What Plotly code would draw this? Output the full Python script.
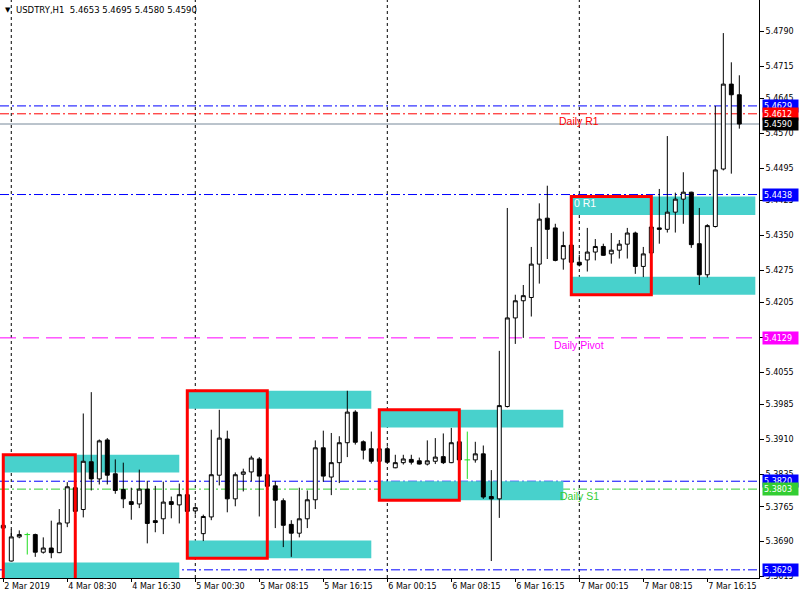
import plotly.graph_objects as go

# ---------------- data ----------------
symbol_title = "USDTRY,H1  5.4653 5.4695 5.4580 5.4590"

tick_labels = ["2 Mar 2019", "4 Mar 08:30", "4 Mar 16:30", "5 Mar 00:30", "5 Mar 08:15",
               "5 Mar 16:15", "6 Mar 00:15", "6 Mar 08:15", "6 Mar 16:15", "7 Mar 00:15",
               "7 Mar 08:15", "7 Mar 16:15"]
tick_bars = [0, 8, 16, 24, 32, 40, 48, 56, 64, 72, 80, 88]

y_ticks = [5.4790, 5.4715, 5.4645, 5.4570, 5.4495, 5.4425, 5.4350, 5.4275, 5.4205,
           5.4130, 5.4055, 5.3985, 5.3910, 5.3835, 5.3765, 5.3690, 5.3615]

opens = [5.3719, 5.3648, 5.3700, 5.3705, 5.3705, 5.3667, 5.3676, 5.3666, 5.3730, 5.3806,
         5.3759, 5.3862, 5.3825, 5.3909, 5.3836, 5.3802, 5.3776, 5.3771, 5.3803, 5.3735,
         5.3739, 5.3776, 5.3769, 5.3791, 5.3756, 5.3707, 5.3743, 5.3833, 5.3911, 5.3782,
         5.3835, 5.3840, 5.3868, 5.3834, 5.3810, 5.3778, 5.3727, 5.3708, 5.3739, 5.3780,
         5.3892, 5.3829, 5.3860, 5.3903, 5.3969, 5.3905, 5.3890, 5.3863, 5.3890, 5.3849,
         5.3860, 5.3867, 5.3864, 5.3857, 5.3863, 5.3873, 5.3860, 5.3905, 5.3866, 5.3866,
         5.3879, 5.3787, 5.3782, 5.3981, 5.4172, 5.4209, 5.4216, 5.4288, 5.4387, 5.4366,
         5.4299, 5.4329, 5.4292, 5.4297, 5.4314, 5.4326, 5.4310, 5.4318, 5.4331, 5.4355,
         5.4283, 5.4312, 5.4366, 5.4363, 5.4400, 5.4428, 5.4443, 5.4332, 5.4265, 5.4369,
         5.4493, 5.4676, 5.4653]
highs = [5.3755, 5.3716, 5.3714, 5.3709, 5.3707, 5.3699, 5.3735, 5.3760, 5.3818, 5.3839,
         5.3966, 5.4012, 5.3910, 5.3913, 5.3867, 5.3860, 5.3806, 5.3845, 5.3821, 5.3810,
         5.3819, 5.3787, 5.3815, 5.3813, 5.3766, 5.3748, 5.3931, 5.3974, 5.3929, 5.3839,
         5.3847, 5.3875, 5.3872, 5.3849, 5.3820, 5.3783, 5.3736, 5.3806, 5.3800, 5.3908,
         5.3929, 5.3924, 5.3917, 5.4015, 5.3973, 5.3908, 5.3927, 5.3908, 5.3895, 5.3877,
         5.3877, 5.3877, 5.3871, 5.3908, 5.3913, 5.3923, 5.3935, 5.3907, 5.3927, 5.3905,
         5.3897, 5.3844, 5.4101, 5.4409, 5.4222, 5.4243, 5.4325, 5.4419, 5.4457, 5.4375,
         5.4358, 5.4340, 5.4308, 5.4366, 5.4342, 5.4332, 5.4355, 5.4340, 5.4366, 5.4358,
         5.4325, 5.4369, 5.4450, 5.4564, 5.4442, 5.4486, 5.4444, 5.4409, 5.4374, 5.4629,
         5.4786, 5.4723, 5.4695]
lows = [5.3705, 5.3647, 5.3697, 5.3662, 5.3657, 5.3664, 5.3654, 5.3665, 5.3721, 5.3745,
        5.3742, 5.3800, 5.3813, 5.3813, 5.3793, 5.3762, 5.3737, 5.3762, 5.3686, 5.3710,
        5.3706, 5.3740, 5.3729, 5.3737, 5.3748, 5.3691, 5.3736, 5.3811, 5.3753, 5.3766,
        5.3798, 5.3820, 5.3744, 5.3747, 5.3719, 5.3678, 5.3657, 5.3699, 5.3719, 5.3760,
        5.3819, 5.3790, 5.3816, 5.3872, 5.3899, 5.3867, 5.3858, 5.3860, 5.3860, 5.3848,
        5.3856, 5.3856, 5.3856, 5.3854, 5.3857, 5.3857, 5.3859, 5.3823, 5.3825, 5.3860,
        5.3782, 5.3648, 5.3741, 5.3979, 5.4116, 5.4129, 5.4175, 5.4246, 5.4299, 5.4294,
        5.4276, 5.4280, 5.4283, 5.4272, 5.4296, 5.4306, 5.4289, 5.4300, 5.4300, 5.4267,
        5.4260, 5.4310, 5.4332, 5.4356, 5.4356, 5.4375, 5.4323, 5.4243, 5.4259, 5.4367,
        5.4490, 5.4483, 5.4580]
closes = [5.3725, 5.3700, 5.3705, 5.3705, 5.3667, 5.3676, 5.3666, 5.3730, 5.3808, 5.3755,
          5.3863, 5.3825, 5.3907, 5.3833, 5.3800, 5.3782, 5.3770, 5.3803, 5.3729, 5.3731,
          5.3775, 5.3770, 5.3791, 5.3755, 5.3763, 5.3744, 5.3834, 5.3913, 5.3782, 5.3834,
          5.3840, 5.3870, 5.3831, 5.3809, 5.3779, 5.3725, 5.3708, 5.3739, 5.3780, 5.3892,
          5.3831, 5.3860, 5.3903, 5.3969, 5.3904, 5.3887, 5.3863, 5.3890, 5.3861, 5.3860,
          5.3868, 5.3861, 5.3857, 5.3864, 5.3872, 5.3860, 5.3903, 5.3866, 5.3866, 5.3879,
          5.3786, 5.3782, 5.3983, 5.4172, 5.4209, 5.4220, 5.4288, 5.4385, 5.4363, 5.4296,
          5.4328, 5.4292, 5.4286, 5.4314, 5.4326, 5.4307, 5.4318, 5.4331, 5.4355, 5.4283,
          5.4310, 5.4368, 5.4363, 5.4400, 5.4428, 5.4443, 5.4330, 5.4265, 5.4371, 5.4491,
          5.4676, 5.4653, 5.4590]

day_separators = [1, 24, 48, 72]

# supply/demand zones (cyan)
zone_x0 = [0, 0, 23, 23, 47, 47, 71, 71]
zone_x1 = [22, 22, 46, 46, 70, 70, 94, 94]
zone_top = [5.3877, 5.3645, 5.4015, 5.3692, 5.3974, 5.3820, 5.4434, 5.4261]
zone_bot = [5.3839, 5.3605, 5.3976, 5.3654, 5.3936, 5.3779, 5.4394, 5.4222]

# opening range boxes (red)
box_x0 = [0, 23, 47, 71]
box_x1 = [9, 33, 57, 81]
box_top = [5.3877, 5.4015, 5.3974, 5.4434]
box_bot = [5.3605, 5.3654, 5.3779, 5.4222]

# horizontal levels
level_vals = [5.4629, 5.4612, 5.4590, 5.4438, 5.4129, 5.3820, 5.3803, 5.3629]
level_text = ["5.4629", "5.4612", "5.4590", "5.4438", "5.4129", "5.3820", "5.3803", "5.3629"]

# level text labels on chart
label_text = ["Daily R1", "Daily Pivot", "Daily S1", "0 R1"]
label_bar = [72, 72, 72, 71.1]
label_price = [5.4597, 5.4114, 5.3789, 5.4420]

# ---------------- styles ----------------
level_colors = ["#0000ff", "#ff0000", "#778899", "#0000ff", "#ff00ff", "#0000ff", "#32cd32", "#0000ff"]
level_box = ["#0000ff", "#ff0000", "#000000", "#0000ff", "#ff00ff", "#0000ff", "#32cd32", "#0000ff"]
level_dash = ["9px,3px,2px,3px", "9px,3px,2px,3px", "solid", "9px,3px,2px,3px", "16px,7px",
              "9px,3px,2px,3px", "9px,3px,2px,3px", "9px,3px,2px,3px"]
label_colors = ["#ff0000", "#ff00ff", "#32cd32", "#ffffff"]
label_anchor = ["center", "center", "center", "left"]
CYAN = "#48d1cc"
FONT = "DejaVu Sans"
LFONT = "Liberation Sans"

bars = list(range(len(opens)))
is_doji = [o == c for o, c in zip(opens, closes)]

fig = go.Figure()

# regular candles
fig.add_trace(go.Candlestick(
    x=[b for b, d in zip(bars, is_doji) if not d],
    open=[v for v, d in zip(opens, is_doji) if not d],
    high=[v for v, d in zip(highs, is_doji) if not d],
    low=[v for v, d in zip(lows, is_doji) if not d],
    close=[v for v, d in zip(closes, is_doji) if not d],
    increasing=dict(line=dict(color="black", width=1), fillcolor="white"),
    decreasing=dict(line=dict(color="black", width=1), fillcolor="black"),
    whiskerwidth=0, showlegend=False, hoverinfo="skip",
))

# doji crosses (green)
dx, dy = [], []
for b, d in zip(bars, is_doji):
    if d:
        dx += [b, b, None, b - 0.35, b + 0.35, None]
        dy += [highs[b], lows[b], None, opens[b], opens[b], None]
fig.add_trace(go.Scatter(x=dx, y=dy, mode="lines", line=dict(color="#22dd22", width=1),
                         showlegend=False, hoverinfo="skip"))

shapes = []
for x0, x1, t, bt in zip(zone_x0, zone_x1, zone_top, zone_bot):
    shapes.append(dict(type="rect", xref="x", yref="y", x0=x0, x1=x1, y0=bt, y1=t,
                       fillcolor=CYAN, line=dict(width=0), layer="below"))
for xs in day_separators:
    shapes.append(dict(type="line", xref="x", yref="paper", x0=xs, x1=xs, y0=0, y1=1,
                       line=dict(color="black", width=1, dash="3px,3px"), layer="below"))
for v, c, d in zip(level_vals, level_colors, level_dash):
    shapes.append(dict(type="line", xref="paper", yref="y", x0=0, x1=1, y0=v, y1=v,
                       line=dict(color=c, width=1, dash=d), layer="below"))
for x0, x1, t, bt in zip(box_x0, box_x1, box_top, box_bot):
    shapes.append(dict(type="rect", xref="x", yref="y", x0=x0, x1=x1, y0=bt, y1=t,
                       line=dict(color="#ff0000", width=3), fillcolor="rgba(0,0,0,0)",
                       layer="above"))

annotations = []
for t, xb, yp, c, a in zip(label_text, label_bar, label_price, label_colors, label_anchor):
    annotations.append(dict(text=t, x=xb, y=yp, xref="x", yref="y", showarrow=False,
                            xanchor=a, yanchor="middle",
                            font=dict(family=LFONT, size=10.5, color=c)))
for v, t, c in zip(level_vals, level_text, level_box):
    annotations.append(dict(text=t, x=1, xref="paper", y=v, yref="y", xanchor="left",
                            yanchor="middle", xshift=3, showarrow=False, bgcolor=c,
                            width=33, height=10, align="left", borderpad=1,
                            font=dict(family=FONT, size=8, color="white")))
annotations.append(dict(text="▼", x=0, y=1, xref="paper", yref="paper", xanchor="left",
                        yanchor="top", xshift=3, yshift=-4, showarrow=False,
                        font=dict(family=FONT, size=7, color="black")))
annotations.append(dict(text=symbol_title, x=0, y=1, xref="paper", yref="paper",
                        xanchor="left", yanchor="top", xshift=14, yshift=-3, showarrow=False,
                        font=dict(family=FONT, size=8.5, color="black")))

fig.update_layout(
    width=800, height=600,
    margin=dict(l=0, r=41, t=0, b=22),
    paper_bgcolor="white", plot_bgcolor="white",
    shapes=shapes, annotations=annotations,
    showlegend=False,
    xaxis=dict(range=[-0.41, 94.46], rangeslider=dict(visible=False), showgrid=False,
               zeroline=False, showline=True, linecolor="black", linewidth=1,
               ticks="outside", ticklen=3, tickcolor="black", tickmode="array",
               tickvals=tick_bars, ticktext=tick_labels, ticklabelposition="outside right",
               tickfont=dict(family=FONT, size=8, color="black")),
    yaxis=dict(range=[5.36114, 5.48573], side="right", showgrid=False, zeroline=False,
               showline=True, linecolor="black", linewidth=1, ticks="outside", ticklen=4,
               tickcolor="black", tickmode="array", tickvals=y_ticks,
               ticktext=[f"{v:.4f}" for v in y_ticks],
               tickfont=dict(family=FONT, size=8, color="black")),
)

fig.write_html("out.html", config={"displayModeBar": False},
               post_script="document.body.style.margin='0px';document.body.style.padding='0px';")
